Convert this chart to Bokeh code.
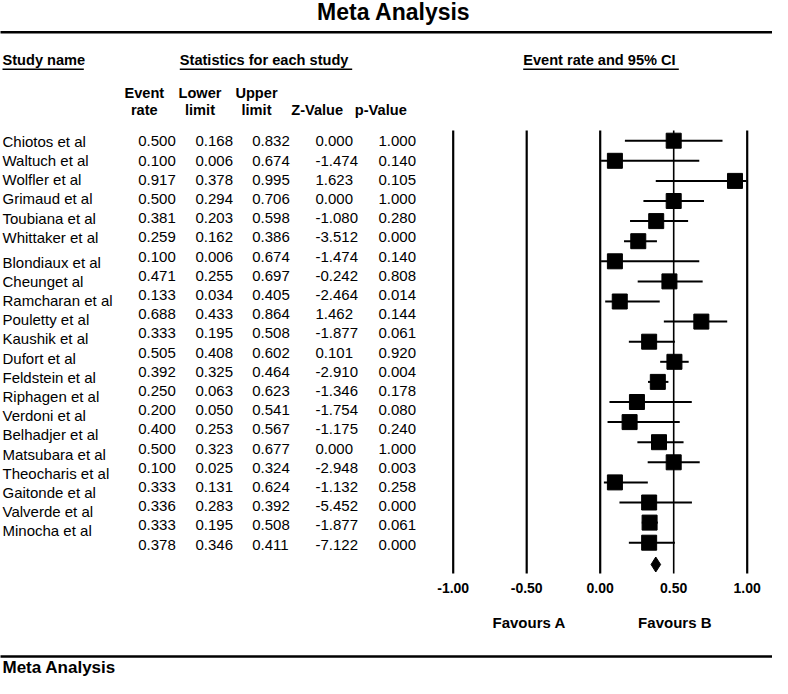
from bokeh.plotting import figure
from bokeh.models import Range1d
from bokeh.core.properties import value
from bokeh.embed import file_html
from bokeh.resources import INLINE

# ---------------- data ----------------
studies = ["Chiotos et al", "Waltuch et al", "Wolfler et al", "Grimaud et al",
           "Toubiana et al", "Whittaker et al", "Blondiaux et al", "Cheunget al",
           "Ramcharan et al", "Pouletty et al", "Kaushik et al", "Dufort et al",
           "Feldstein et al", "Riphagen et al", "Verdoni et al", "Belhadjer et al",
           "Matsubara et al", "Theocharis et al", "Gaitonde et al", "Valverde et al",
           "Minocha et al"]
event_rate = [0.500, 0.100, 0.917, 0.500, 0.381, 0.259, 0.100, 0.471, 0.133, 0.688,
              0.333, 0.505, 0.392, 0.250, 0.200, 0.400, 0.500, 0.100, 0.333, 0.336, 0.333]
lower_limit = [0.168, 0.006, 0.378, 0.294, 0.203, 0.162, 0.006, 0.255, 0.034, 0.433,
               0.195, 0.408, 0.325, 0.063, 0.050, 0.253, 0.323, 0.025, 0.131, 0.283, 0.195]
upper_limit = [0.832, 0.674, 0.995, 0.706, 0.598, 0.386, 0.674, 0.697, 0.405, 0.864,
               0.508, 0.602, 0.464, 0.623, 0.541, 0.567, 0.677, 0.324, 0.624, 0.392, 0.508]
z_value = [0.000, -1.474, 1.623, 0.000, -1.080, -3.512, -1.474, -0.242, -2.464, 1.462,
           -1.877, 0.101, -2.910, -1.346, -1.754, -1.175, 0.000, -2.948, -1.132, -5.452, -1.877]
p_value = [1.000, 0.140, 0.105, 1.000, 0.280, 0.000, 0.140, 0.808, 0.014, 0.144,
           0.061, 0.920, 0.004, 0.178, 0.080, 0.240, 1.000, 0.003, 0.258, 0.000, 0.061]
summary_rate = 0.378
summary_lower = 0.346
summary_upper = 0.411
summary_z = -7.122
summary_p = 0.000
axis_ticks = [-1.0, -0.5, 0.0, 0.5, 1.0]
tick_labels = ["-1.00", "-0.50", "0.00", "0.50", "1.00"]
favours_labels = ["Favours A", "Favours B"]
title_text = "Meta Analysis"
section_headers = ["Study name", "Statistics for each study", "Event rate and 95% CI"]
col_head_top = ["Event", "Lower", "Upper", "", ""]
col_head_bottom = ["rate", "limit", "limit", "Z-Value", "p-Value"]

# ---------------- layout ----------------
W, H = 772, 678
X0, S = 599.7, 147.0          # pixel position of 0 and pixels per unit
BASE_K = 0.38                 # baseline compensation (fraction of font size)


def v(px):
    return (px - X0) / S


def bl(y, size):
    return y - BASE_K * size


FONT = value("Liberation Sans")

p = figure(width=W, height=H, x_range=Range1d(v(0), v(W)),
           y_range=Range1d(H, 0), output_backend="svg", toolbar_location=None,
           min_border=0, x_axis_location=None, y_axis_location=None,
           outline_line_color=None, background_fill_color="white")
p.grid.visible = False


def label(xs, ys, texts, size, bold=False, align="left"):
    p.text(x=xs, y=[bl(y, size) for y in ys], text=texts, text_font=FONT,
           text_font_style="bold" if bold else "normal", text_font_size=f"{size}px",
           text_align=align, text_baseline="alphabetic", text_color="black")


# title and rules
label([v(393.3)], [20.7], [title_text], 23, bold=True, align="center")
p.segment(x0=[v(-5), v(-5)], x1=[v(W + 5), v(W + 5)], y0=[31.7, 656.0], y1=[31.7, 656.0],
          line_width=2.5, line_color="black")
label([v(2)], [673.5], [title_text], 17, bold=True)

# section headers with underline
sec_left = [2.0, 179.3, 522.7]
sec_right = [83.3, 351.7, 678.3]
label([v(a) for a in sec_left], [65.5] * 3, section_headers, 14.6, bold=True)
p.segment(x0=[v(a) for a in sec_left], x1=[v(b) for b in sec_right],
          y0=[68.8] * 3, y1=[68.8] * 3, line_width=1.5, line_color="black")

# column headers
col_centers = [143.8, 199.5, 256.0, 316.7, 380.3]
label([v(c) for c in col_centers], [98.0] * 5, col_head_top, 14.6, bold=True, align="center")
label([v(c) for c in col_centers], [115.5] * 5, col_head_bottom, 14.6, bold=True, align="center")

# table rows
n = len(studies)
num_base = [146.5 + 19.2 * i for i in range(n + 1)]
name_base = [num_base[i] + (5.5 if i >= 6 else 0.0) for i in range(n)]
label([v(2)] * n, name_base, studies, 15)

col_left = [137.7, 195.0, 251.7, 315.0, 378.0]
columns = [event_rate + [summary_rate], lower_limit + [summary_lower],
           upper_limit + [summary_upper], z_value + [summary_z], p_value + [summary_p]]
for left, vals in zip(col_left, columns):
    label([v(left)] * len(vals), num_base, [f"{x:.3f}" for x in vals], 15)

# forest plot: reference lines
line_widths = [2.2, 2.2, 2.2, 1.6, 2.2]
p.segment(x0=axis_ticks, x1=axis_ticks, y0=[130] * 5, y1=[573] * 5,
          line_width=line_widths, line_color="black")
label(axis_ticks, [593.3] * 5, tick_labels, 14, bold=True, align="center")
label([v(528.7), v(674.3)], [628.0] * 2, favours_labels, 15, bold=True, align="center")

# study estimates
fy = [140.2 + 20.1 * i for i in range(n)]
p.segment(x0=lower_limit, x1=upper_limit, y0=fy, y1=fy, line_width=2, line_color="black")
p.scatter(x=event_rate, y=fy, marker="square", size=15, fill_color="black",
          line_color="black")

# summary diamond
yd = 140.2 + 20.1 * n + 1.7
p.patch(x=[summary_lower, summary_rate, summary_upper, summary_rate],
        y=[yd, yd - 7.5, yd, yd + 7.5], fill_color="black", line_color="black")

open("out.html", "w").write(file_html(p, INLINE))
